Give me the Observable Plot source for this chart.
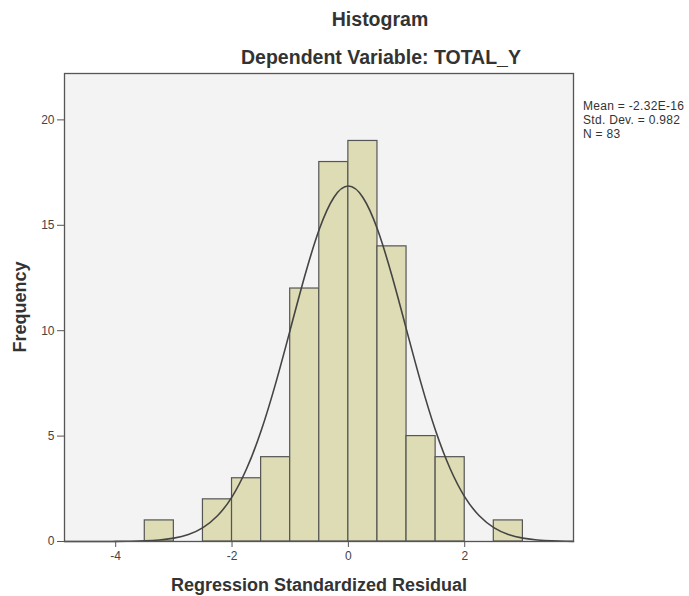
<!DOCTYPE html>
<html>
<head>
<meta charset="utf-8">
<script src="https://cdn.jsdelivr.net/npm/d3@7"></script>
<script src="https://cdn.jsdelivr.net/npm/@observablehq/plot@0.6"></script>
<style>
  html, body { margin: 0; padding: 0; background: #fff; }
  #wrap { position: relative; width: 689px; height: 596px; overflow: hidden; font-family: "Liberation Sans", Arial, sans-serif; }
  #chart { position: absolute; left: 0; top: 0; }
  .t { position: absolute; white-space: nowrap; color: #333; font-weight: bold; }
  .stats { position: absolute; left: 583px; top: 100px; font-size: 12px; letter-spacing: 0.3px; color: #333; white-space: nowrap; }
  .stats div { height: 13.9px; line-height: 13.9px; }
</style>
</head>
<body>
<div id="wrap">
  <div id="chart"></div>
  <div class="t" style="left:380px; top:8px; transform:translateX(-50%); font-size:19.5px;">Histogram</div>
  <div class="t" style="left:381px; top:46px; transform:translateX(-50%); font-size:19.5px;">Dependent Variable: TOTAL_Y</div>
  <div class="t" style="left:319px; top:575px; transform:translateX(-50%); font-size:18px;">Regression Standardized Residual</div>
  <div class="t" style="left:20px; top:307px; transform:translate(-50%,-50%) rotate(-90deg); font-size:18px;">Frequency</div>
  <div class="stats"><div>Mean = -2.32E-16</div><div>Std. Dev. = 0.982</div><div>N = 83</div></div>
</div>
<script>
// Histogram bins (bin width 0.5)
const binStart = [-3.5, -2.5, -2.0, -1.5, -1.0, -0.5, 0.0, 0.5, 1.0, 1.5, 2.5];
const binEnd   = [-3.0, -2.0, -1.5, -1.0, -0.5,  0.0, 0.5, 1.0, 1.5, 2.0, 3.0];
const counts   = [1, 2, 3, 4, 12, 18, 19, 14, 5, 4, 1];

// Normal curve
const curveX = [-4.88, -4.5, -4.25, -4.0, -3.75, -3.5, -3.25, -3.0, -2.75, -2.5, -2.25, -2.0, -1.75, -1.5, -1.25, -1.0, -0.75, -0.5, -0.25, 0.0,
                0.25, 0.5, 0.75, 1.0, 1.25, 1.5, 1.75, 2.0, 2.25, 2.5, 2.75, 3.0, 3.25, 3.5, 3.75, 3.87];
const curveY = [0.0, 0.001, 0.002, 0.004, 0.011, 0.029, 0.07, 0.16, 0.33, 0.66, 1.22, 2.12, 3.45, 5.25, 7.5, 10.04, 12.59, 14.81, 16.32, 16.86,
                16.32, 14.81, 12.59, 10.04, 7.5, 5.25, 3.45, 2.12, 1.22, 0.66, 0.33, 0.16, 0.07, 0.029, 0.011, 0.007];

const xTicks = [-4, -2, 0, 2];
const yTicks = [0, 5, 10, 15, 20];

const bars = binStart.map((s, i) => ({x1: s, x2: binEnd[i], y: counts[i]}));
const curve = curveX.map((x, i) => ({x, y: curveY[i]}));

const plot = Plot.plot({
  width: 689,
  height: 596,
  marginTop: 73,
  marginLeft: 64,
  marginRight: 116,
  marginBottom: 55,
  style: {fontFamily: "Liberation Sans, Arial, sans-serif", fontSize: "12px", color: "#444", background: "transparent"},
  x: {domain: [-4.88, 3.87]},
  y: {domain: [0, 22.2]},
  marks: [
    Plot.frame({fill: "#f3f3f3", stroke: "none"}),
    Plot.rectY(bars, {x1: "x1", x2: "x2", y: "y", fill: "#dedcb4", stroke: "#555", strokeWidth: 1.2}),
    Plot.line(curve, {x: "x", y: "y", stroke: "#444", strokeWidth: 1.6, curve: "natural"}),
    Plot.frame({stroke: "#555", strokeWidth: 1.3}),
    Plot.axisX({ticks: xTicks, tickSize: 6, tickPadding: 4, label: null, tickFormat: d => String(d).replace("−", "-"), stroke: "#555"}),
    Plot.axisY({ticks: yTicks, tickSize: 7, tickPadding: 3, label: null, tickFormat: d => String(d), stroke: "#555"})
  ]
});
document.getElementById("chart").appendChild(plot);
</script>
</body>
</html>
